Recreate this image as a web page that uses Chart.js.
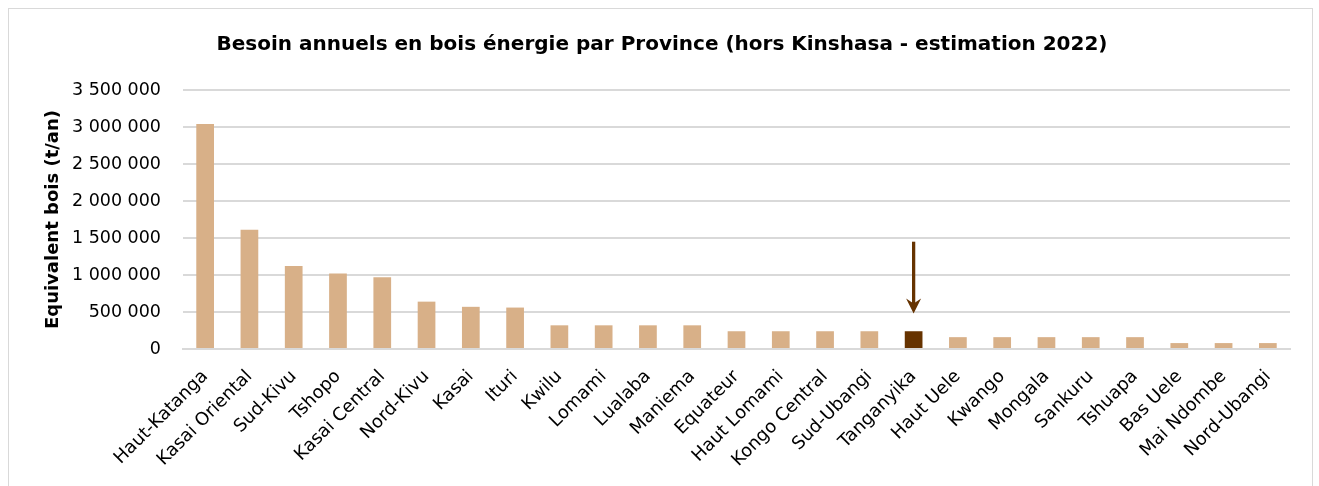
<!DOCTYPE html>
<html>
<head>
<meta charset="utf-8">
<script src="https://cdn.jsdelivr.net/npm/chart.js@4.4.1/dist/chart.umd.min.js"></script>
<style>
  html, body { margin: 0; padding: 0; background: #fff; }
  #wrap { position: relative; width: 1319px; height: 486px; overflow: hidden; }
  #frame { position: absolute; left: 8px; top: 8px; width: 1303px; height: 500px; border: 1px solid #d9d9d9; }
  #myBars { position: absolute; left: 0; top: 0; }
</style>
</head>
<body>
<div id="wrap">
  <div id="frame"></div>
  <canvas id="myBars" width="1319" height="486"></canvas>
</div>
<script>
var provinces = ['Haut-Katanga', 'Kasai Oriental', 'Sud-Kivu', 'Tshopo', 'Kasai Central', 'Nord-Kivu',
    'Kasai', 'Ituri', 'Kwilu', 'Lomami', 'Lualaba', 'Maniema', 'Equateur', 'Haut Lomami',
    'Kongo Central', 'Sud-Ubangi', 'Tanganyika', 'Haut Uele', 'Kwango', 'Mongala', 'Sankuru',
    'Tshuapa', 'Bas Uele', 'Mai Ndombe', 'Nord-Ubangi'];
var besoin = [3040000, 1610000, 1120000, 1020000, 970000, 640000,
    570000, 560000, 320000, 320000, 320000, 320000, 240000, 240000,
    240000, 240000, 240000, 160000, 160000, 160000, 160000,
    160000, 80000, 80000, 80000];
var yTicks = [0, 500000, 1000000, 1500000, 2000000, 2500000, 3000000, 3500000];
var highlight = 'Tanganyika';
var arrowFrom = 1450000;
var arrowTo = 480000;

function fmt(v) {
    return String(v).replace(/\B(?=(\d{3})+(?!\d))/g, ' ');
}

// fleche au-dessus de la barre mise en evidence
var arrowPlugin = {
    id: 'arrow',
    afterDatasetsDraw: function (chart) {
        var c = chart.ctx;
        var x = chart.scales.x.getPixelForValue(provinces.indexOf(highlight));
        var y1 = chart.scales.y.getPixelForValue(arrowFrom);
        var y2 = chart.scales.y.getPixelForValue(arrowTo);
        c.save();
        c.strokeStyle = '#663300';
        c.fillStyle = '#663300';
        c.lineWidth = 3.3;
        c.beginPath();
        c.moveTo(x, y1);
        c.lineTo(x, y2 - 8);
        c.stroke();
        c.beginPath();
        c.moveTo(x - 7.5, y2 - 15);
        c.lineTo(x, y2 - 10);
        c.lineTo(x + 7.5, y2 - 15);
        c.lineTo(x, y2);
        c.closePath();
        c.fill();
        c.restore();
    }
};

var ctx = document.getElementById('myBars');
var myBars = new Chart(ctx, {
    type: 'bar',
    data: {
        labels: provinces,
        datasets: [{
            label: 'Equivalent bois (t/an)',
            data: besoin,
            backgroundColor: provinces.map(function (p) { return p === highlight ? '#663300' : '#d8b088'; }),
            borderWidth: 0,
            categoryPercentage: 1,
            barPercentage: 0.4
        }]
    },
    plugins: [arrowPlugin],
    options: {
        responsive: false,
        animation: false,
        layout: { padding: { left: 34, right: 29, top: 0, bottom: 0 } },
        plugins: {
            legend: { display: false },
            tooltip: { enabled: false },
            title: {
                display: true,
                text: 'Besoin annuels en bois énergie par Province (hors Kinshasa - estimation 2022)',
                color: '#000',
                font: { family: 'DejaVu Sans', size: 20, weight: 'bold' },
                padding: { top: 33, bottom: 33 }
            }
        },
        scales: {
            x: {
                grid: { display: false },
                border: { color: '#d9d9d9', width: 2 },
                ticks: {
                    color: '#000',
                    font: { family: 'DejaVu Sans', size: 18 },
                    minRotation: 45,
                    maxRotation: 45,
                    padding: 9,
                    autoSkip: false
                },
                afterFit: function (s) { s.height = 137; }
            },
            y: {
                min: 0,
                max: 3500000,
                afterBuildTicks: function (s) { s.ticks = yTicks.map(function (v) { return { value: v }; }); },
                grid: { color: '#d9d9d9', lineWidth: 2, drawTicks: false },
                border: { display: false },
                ticks: {
                    color: '#000',
                    font: { family: 'DejaVu Sans', size: 17.5 },
                    padding: 22,
                    callback: function (v) { return fmt(v); }
                },
                title: {
                    display: true,
                    text: 'Equivalent bois (t/an)',
                    color: '#000',
                    font: { family: 'DejaVu Sans', size: 18, weight: 'bold' },
                    padding: { top: 9, bottom: 0 }
                },
                afterFit: function (s) { s.width = 149; }
            }
        }
    }
});
</script>
</body>
</html>
